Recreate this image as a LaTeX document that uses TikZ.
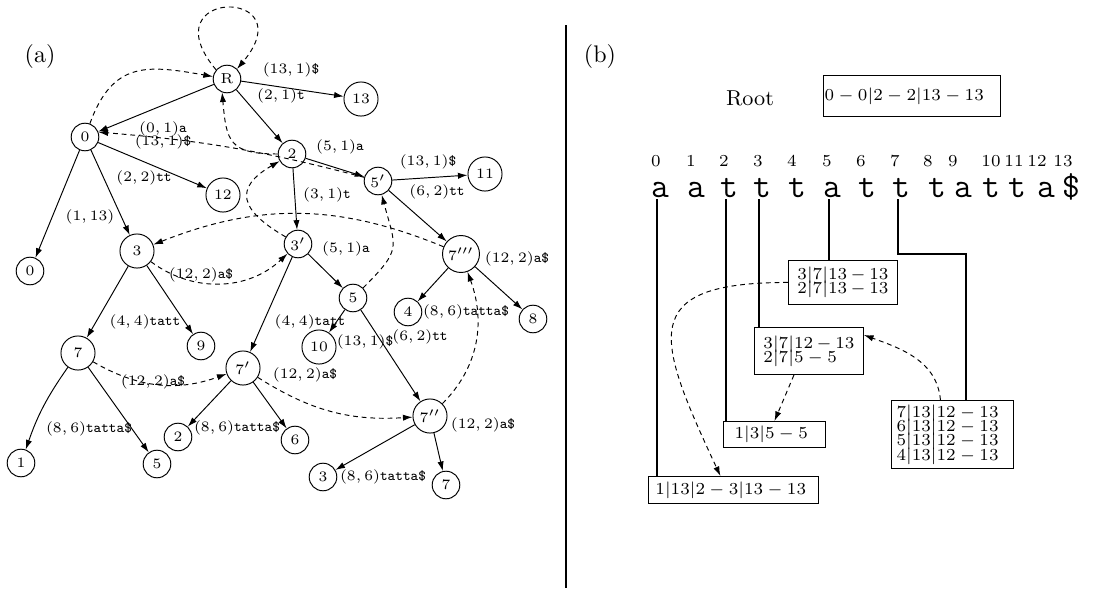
\documentclass[tikz,border=0pt]{standalone}
\usepackage{amsmath}
\usetikzlibrary{calc,arrows.meta,positioning}
\binoppenalty=10000 \relpenalty=10000

\begin{document}
\begin{tikzpicture}[x=0.41667pt,y=-0.41667pt,>={Latex[length=4pt,width=2.6pt]}]

\tikzset{vtx/.style={draw,circle,inner sep=0pt,minimum size=11.5pt,font=\fontsize{6}{7}\selectfont},
bigvtx/.style={vtx,minimum size=14.2pt},
elab/.style={font=\fontsize{6}{7}\selectfont,inner sep=0pt},
slink/.style={->,dash pattern=on 2pt off 1.6pt},
cell/.style={draw,anchor=north west,align=left,inner ysep=0pt,font={\fontsize{7}{6}\selectfont\lineskiplimit=-5pt}}}

\useasboundingbox (0,0) rectangle (1096,590);

% Panels
\node (pa) at (40,56) {(a)};
\node (pb) at (600,56) {(b)};
\draw[thick] (566,25) -- (566,588);

% Tree nodes
\node[vtx] (R) at (227,79) {R};
\node[bigvtx] (f13) at (361,99) {13};
\node[vtx] (n0) at (85,137) {0};
\node[vtx] (n2) at (292,154) {2};
\node[bigvtx] (f12) at (223,195) {12};
\node[vtx] (n5p) at (378,181) {$5'$};
\node[bigvtx] (f11) at (485,174) {11};
\node[bigvtx] (n3) at (137,251) {3};
\node[vtx] (f0) at (30,271) {0};
\node[vtx] (n3p) at (298,244) {$3'$};
\node[bigvtx,minimum size=15.4pt] (n7ppp) at (461,254) {$7'''$};
\node[vtx] (n5) at (353,298) {5};
\node[vtx] (f4) at (408,312) {4};
\node[vtx] (f8) at (533,319) {8};
\node[bigvtx] (f10) at (319,347) {10};
\node[vtx] (f9) at (201,346) {9};
\node[bigvtx] (n7) at (78,353) {7};
\node[bigvtx] (n7p) at (243,368) {$7'$};
\node[bigvtx] (n7pp) at (430,416) {$7''$};
\node[vtx] (f2) at (178,437) {2};
\node[vtx] (f6) at (295,440) {6};
\node[vtx] (f1) at (21,463) {1};
\node[vtx] (f5) at (157,464) {5};
\node[vtx] (f3) at (323,477) {3};
\node[vtx] (f7) at (446,485) {7};

% Tree edges
\foreach \a/\b in {R/n0,R/f13,R/n2,n0/f0,n0/f12,n0/n3,n2/n5p,n2/n3p,n5p/f11,n5p/n7ppp,n3/n7,n3/f9,n3p/n7p,n3p/n5,n5/f10,n5/n7pp,n7ppp/f4,n7ppp/f8,n7/f5,n7p/f2,n7p/f6,n7pp/f3,n7pp/f7}
  \draw[->] (\a) -- (\b);
\draw[->] (n7) to[bend right=8] (f1);

% Edge labels
\node[elab] (lR13) at (291,70) {$(13,1)$\texttt{\$}};
\node[elab] (lR2) at (281,96) {$(2,1)$\texttt{t}};
\node[elab] (l0a) at (163,129) {$(0,1)$\texttt{a}};
\node[elab] (l0b) at (163,142) {$(13,1)$\texttt{\$}};
\node[elab] (l2a) at (340,147) {$(5,1)$\texttt{a}};
\node[elab] (l0c) at (144,178) {$(2,2)$\texttt{tt}};
\node[elab] (l5pa) at (428,162) {$(13,1)$\texttt{\$}};
\node[elab] (l5pb) at (437,192) {$(6,2)$\texttt{tt}};
\node[elab] (l2b) at (327,195) {$(3,1)$\texttt{t}};
\node[elab] (l0d) at (90,217) {$(1,13)$};
\node[elab] (l3pa) at (346,249) {$(5,1)$\texttt{a}};
\node[elab] (l3a) at (201,275) {$(12,2)$\texttt{a\$}};
\node[elab] (l7pppa) at (517,259) {$(12,2)$\texttt{a\$}};
\node[elab] (l3b) at (145,322) {$(4,4)$\texttt{tatt}};
\node[elab] (l5a) at (310,322) {$(4,4)$\texttt{tatt}};
\node[elab] (l7pppb) at (466,312) {$(8,6)$\texttt{tatta\$}};
\node[elab] (l5b) at (365,342) {$(13,1)$\texttt{\$}};
\node[elab] (l5c) at (420,337) {$(6,2)$\texttt{tt}};
\node[elab] (l7a) at (153,382) {$(12,2)$\texttt{a\$}};
\node[elab] (l7pa) at (305,375) {$(12,2)$\texttt{a\$}};
\node[elab] (l7ppa) at (483,425) {$(12,2)$\texttt{a\$}};
\node[elab] (l7b) at (89,429) {$(8,6)$\texttt{tatta\$}};
\node[elab] (l7pb) at (237,428) {$(8,6)$\texttt{tatta\$}};
\node[elab] (l7ppb) at (383,477) {$(8,6)$\texttt{tatta\$}};

% Suffix links
\draw[slink] (R.140) to[out=130,in=50,looseness=13] (R.45);
\draw[slink] (n0) to[out=70,in=170,looseness=1.3] (R);
\draw[slink] (n2.west) to[out=180,in=-85,looseness=1.5] (R.-110);
\draw[slink] (n5p) to[bend right=5] (n0.20);
\draw[slink] (n3p) to[out=150,in=210,looseness=1.8] (n2);
\draw[slink] (n7ppp) to[bend right=22] (n3);
\draw[slink] (n3) to[bend right=40] (n3p);
\draw[slink] (n5) to[out=45,in=-75,looseness=1.5] (n5p);
\draw[slink] (n7) to[bend right=25] (n7p);
\draw[slink] (n7p) to[bend right=18] (n7pp);
\draw[slink] (n7pp) to[out=45,in=-70] (n7ppp);

% Text and indices
\foreach \i/\x in {0/656,1/691,2/724,3/758,4/792,5/827,6/861,7/895,8/928,9/953,10/991,11/1014,12/1037,13/1063}
  \node[font=\fontsize{7}{8}\selectfont] (i\i) at (\x,161) {\i};
\foreach \i/\x/\c in {0/660/a,1/696/a,2/729/t,3/762/t,4/797/t,5/832/a,6/867/t,7/901/t,8/937/t,9/963/a,10/991/t,11/1017/t,12/1046/a,13/1071/\$}
  \node[anchor=base,inner sep=0pt,font=\Large\ttfamily] (l\i) at (\x,197) {\c};

% Cells
\node[font=\fontsize{9}{11}\selectfont] (rootlab) at (750,98) {Root};
\node[cell,text width=72.8pt,inner xsep=0.5pt,minimum height=17pt] (rootcell) at (823,75) {$0-0|2-2|13-13$};
\node[cell,text width=37.9pt,inner xsep=3.75pt,minimum height=18.3pt] (cellA) at (788,260) {$3|7|13-13$\\$2|7|13-13$};
\node[cell,text width=37.9pt,inner xsep=3.75pt,minimum height=19.6pt] (cellB) at (754,327) {$3|7|12-13$\\$2|7|5-5$};
\node[cell,text width=33.3pt,inner xsep=4.6pt,minimum height=10.8pt] (cellC) at (723,421) {$1|3|5-5$};
\node[cell,text width=65pt,inner xsep=2.9pt,minimum height=11.25pt] (cellD) at (648,476) {$1|13|2-3|13-13$};
\node[cell,text width=46.6pt,inner xsep=2.1pt,minimum height=28.3pt] (cellE) at (891,400) {$7|13|12-13$\\$6|13|12-13$\\$5|13|12-13$\\$4|13|12-13$};

% Occurrence lines
\foreach \i in {0,2,3,5,7} \coordinate (t\i) at ($(l\i.base)+(-3,2)$);
\coordinate (elbow) at (966,254);
\draw[thick] (t0) -- (t0 |- cellD.north);
\draw[thick] (t2) -- (t2 |- cellC.north);
\draw[very thick] (t3) -- (t3 |- cellB.north);
\draw[thick] (t5) -- (t5 |- cellA.north);
\draw[very thick] (t7) |- (elbow) -- (elbow |- cellE.north);

% Cell links
\draw[slink] (cellA.west) to[out=180,in=115,looseness=1.9] ($(cellD.north)+(-13,0)$);
\draw[slink] ($(cellB.south)+(-15,0)$) -- (cellC.north);
\draw[slink] ($(cellE.north)+(-12,0)$) to[out=95,in=-20] ($(cellB.north east)+(0,8)$);

\end{tikzpicture}
\end{document}
